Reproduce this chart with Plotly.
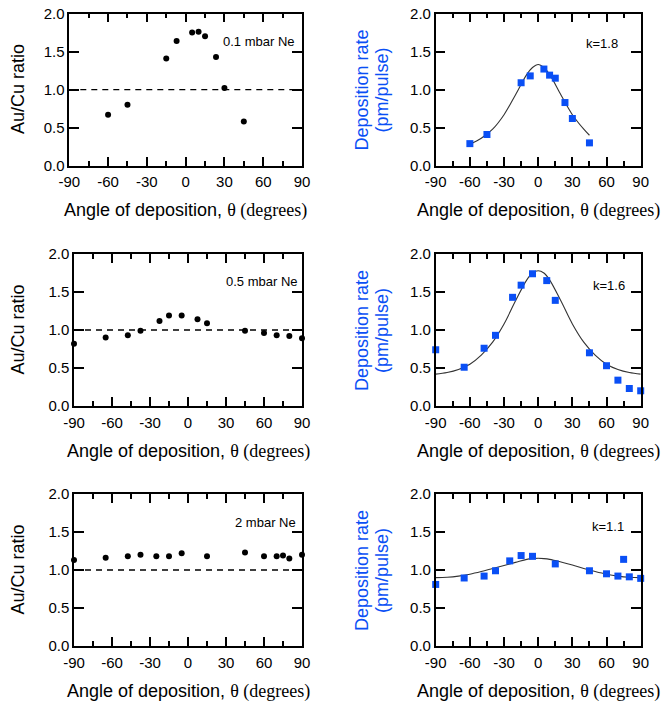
import plotly.graph_objects as go

# ---------------- data ----------------
top_angles = [-60, -45, -15, -7, 5, 10, 15, 23.5, 30, 45]
top_ratio = [0.67, 0.80, 1.41, 1.64, 1.75, 1.76, 1.70, 1.43, 1.02, 0.58]
top_rate = [0.29, 0.41, 1.09, 1.18, 1.27, 1.19, 1.15, 0.83, 0.62, 0.30]

mid_angles = [-90, -65, -47.5, -37.5, -22.5, -15, -5, 7.5, 15, 45, 60, 70, 80, 90]
mid_ratio = [0.82, 0.90, 0.93, 0.99, 1.12, 1.19, 1.19, 1.14, 1.09, 0.99, 0.96, 0.93, 0.92, 0.89]
mid_rate = [0.74, 0.51, 0.76, 0.93, 1.43, 1.59, 1.74, 1.65, 1.39, 0.70, 0.53, 0.34, 0.23, 0.20]

bot_angles = [-90, -65, -47.5, -37.5, -25, -15, -5, 15, 45, 60, 70, 75, 80, 90]
bot_ratio = [1.13, 1.16, 1.18, 1.20, 1.18, 1.18, 1.22, 1.18, 1.23, 1.18, 1.18, 1.19, 1.15, 1.20]
bot_rate = [0.81, 0.895, 0.92, 0.99, 1.12, 1.19, 1.18, 1.08, 0.99, 0.95, 0.92, 1.14, 0.91, 0.89]

# fitted curves
fit_top_angles = [-60, -50, -40, -30, -20, -10, -5, 0, 5, 10, 20, 30, 40, 45]
fit_top = [0.28, 0.36, 0.48, 0.67, 0.93, 1.20, 1.29, 1.33, 1.29, 1.20, 0.93, 0.67, 0.48, 0.40]

fit_angles = [-90, -80, -70, -60, -50, -40, -30, -20, -10, -5, 0, 5, 10, 20, 30, 40, 50, 60, 70, 80, 90]
fit_mid = [0.42, 0.44, 0.48, 0.55, 0.67, 0.84, 1.08, 1.38, 1.66, 1.75, 1.78, 1.75, 1.66, 1.38, 1.08, 0.84, 0.67, 0.55, 0.48, 0.44, 0.42]
fit_bot = [0.90, 0.905, 0.92, 0.945, 0.98, 1.02, 1.06, 1.10, 1.14, 1.15, 1.155, 1.15, 1.14, 1.105, 1.065, 1.02, 0.98, 0.945, 0.92, 0.905, 0.90]

labels_left = ["0.1 mbar Ne", "0.5 mbar Ne", "2 mbar Ne"]
labels_right = ["k=1.8", "k=1.6", "k=1.1"]

x_ticks = [-90, -60, -30, 0, 30, 60, 90]
x_tick_text = ["-90", "-60", "-30", "0", "30", "60", "90"]
y_ticks = [0.0, 0.5, 1.0, 1.5, 2.0]
y_tick_text = ["0.0", "0.5", "1.0", "1.5", "2.0"]

# ---------------- layout geometry ----------------
W, H = 663, 709
SANS = "Liberation Sans, Arial, sans-serif"
BLUE = "#0a4ff5"


def py(v):
    return 1 - v / H


def px(v):
    return v / W


rows_y = [(13.5, 165.7), (254, 406), (494, 646)]
left_x = [(69.3, 302), (74, 302), (74, 302)]
right_x = (435.7, 640.7)

fig = go.Figure()

ratio_sets = [(top_angles, top_ratio), (mid_angles, mid_ratio), (bot_angles, bot_ratio)]
rate_sets = [(top_angles, top_rate), (mid_angles, mid_rate), (bot_angles, bot_rate)]
fit_sets = [(fit_top_angles, fit_top), (fit_angles, fit_mid), (fit_angles, fit_bot)]

annotations = []

axis_common = dict(
    showline=True, linecolor="black", linewidth=1.5, mirror="ticks",
    ticks="inside", tickcolor="black", tickwidth=1.5,
    showgrid=False, zeroline=False, automargin=False,
    tickfont=dict(family=SANS, size=15, color="black"),
)

title_txt = ("Angle of deposition, <span style='font-family:Liberation Serif, Times New Roman, serif'>"
             "\u03b8 (degrees)</span>")

for r in range(3):
    y0, y1 = rows_y[r]
    ly = (py(y1), py(y0))
    for c in range(2):
        idx = r * 2 + c + 1
        xa = "x" if idx == 1 else f"x{idx}"
        ya = "y" if idx == 1 else f"y{idx}"
        xkey = "xaxis" if idx == 1 else f"xaxis{idx}"
        ykey = "yaxis" if idx == 1 else f"yaxis{idx}"
        if c == 0:
            xd = (px(left_x[r][0]), px(left_x[r][1]))
        else:
            xd = (px(right_x[0]), px(right_x[1]))
        fig.update_layout({
            xkey: dict(axis_common, domain=xd, anchor=ya, range=[-90, 90],
                       tickmode="array", tickvals=x_ticks, ticktext=x_tick_text, ticklen=9,
                       ticklabelstandoff=2,
                       minor=dict(ticks="inside", ticklen=5, tickwidth=1.5, tickcolor="black",
                                  dtick=15, tick0=-90, showgrid=False)),
            ykey: dict(axis_common, domain=ly, anchor=xa, range=[0, 2],
                       tickmode="array", tickvals=y_ticks, ticktext=y_tick_text, ticklen=10),
        })
        xc = (xd[0] + xd[1]) / 2
        annotations.append(dict(text=title_txt, x=xc, y=py(y1 + 45), xref="paper", yref="paper",
                                xanchor="center", yanchor="middle", showarrow=False,
                                font=dict(family=SANS, size=18, color="black")))
        yc = (ly[0] + ly[1]) / 2
        if c == 0:
            ang, val = ratio_sets[r]
            fig.add_trace(go.Scatter(x=ang, y=val, mode="markers", xaxis=xa, yaxis=ya,
                                     marker=dict(symbol="circle", size=6, color="black"),
                                     cliponaxis=False, showlegend=False))
            fig.add_trace(go.Scatter(x=[-90, 90], y=[1.0, 1.0], mode="lines", xaxis=xa, yaxis=ya,
                                     line=dict(color="black", width=1.4, dash="6px,5px"),
                                     showlegend=False))
            annotations.append(dict(text="Au/Cu ratio", x=px(17.5), y=yc, xref="paper", yref="paper",
                                    textangle=-90, xanchor="center", yanchor="middle", showarrow=False,
                                    font=dict(family=SANS, size=18, color="black")))
            annotations.append(dict(text=labels_left[r], x=[86, 88.4, 87][r], y=[1.63, 1.635, 1.62][r],
                                    xref=xa, yref=ya, xanchor="right", yanchor="middle", showarrow=False,
                                    font=dict(family=SANS, size=13, color="black")))
        else:
            fa, fv = fit_sets[r]
            fig.add_trace(go.Scatter(x=fa, y=fv, mode="lines", xaxis=xa, yaxis=ya,
                                     line=dict(color="#333333", width=1.1, shape="spline"),
                                     showlegend=False))
            ang, val = rate_sets[r]
            fig.add_trace(go.Scatter(x=ang, y=val, mode="markers", xaxis=xa, yaxis=ya,
                                     marker=dict(symbol="square", size=7, color=BLUE),
                                     cliponaxis=False, showlegend=False))
            annotations.append(dict(text="Deposition rate", x=px(362), y=yc, xref="paper", yref="paper",
                                    textangle=-90, xanchor="center", yanchor="middle", showarrow=False,
                                    font=dict(family=SANS, size=18, color=BLUE)))
            annotations.append(dict(text="(pm/pulse)", x=px(382), y=yc, xref="paper", yref="paper",
                                    textangle=-90, xanchor="center", yanchor="middle", showarrow=False,
                                    font=dict(family=SANS, size=18, color=BLUE)))
            annotations.append(dict(text=labels_right[r], x=[71.8, 78, 77][r], y=[1.60, 1.59, 1.57][r],
                                    xref=xa, yref=ya, xanchor="right", yanchor="middle", showarrow=False,
                                    font=dict(family=SANS, size=13, color="black")))

fig.update_layout(
    template="none",
    width=W, height=H,
    margin=dict(l=0, r=0, t=0, b=0, autoexpand=False),
    paper_bgcolor="white", plot_bgcolor="white",
    annotations=annotations,
    showlegend=False,
)

fig.write_html("out.html",
               config={"displayModeBar": False},
               post_script="document.body.style.margin='0px';document.body.style.overflow='hidden';")
